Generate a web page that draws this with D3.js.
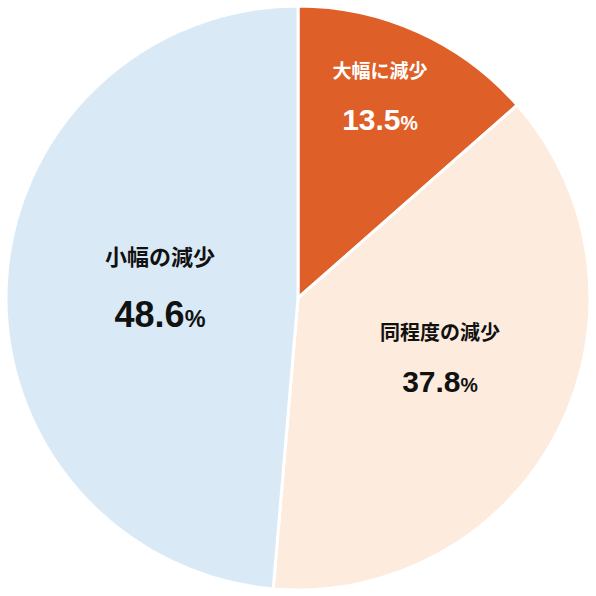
<!DOCTYPE html>
<html><head><meta charset="utf-8">
<script src="https://cdn.jsdelivr.net/npm/d3@7"></script>
<style>body{margin:0;background:#fff}</style>
</head><body>
<svg id="c" width="596" height="596"></svg>
<script>
const categories = ["大幅に減少", "同程度の減少", "小幅の減少"];
const values = [13.5, 37.8, 48.6];
const valueLabels = ["13.5", "37.8", "48.6"];
const colors = ["#DF5F28", "#FDEBDD", "#D9EAF6"];
const labelColors = ["#ffffff", "#111111", "#111111"];

const svg = d3.select("#c");
const cx = 298, cy = 298, r = 292;
const g = svg.append("g").attr("transform", `translate(${cx},${cy})`);
const pie = d3.pie().sort(null).value(d => d)(values);
const arc = d3.arc().innerRadius(0).outerRadius(r);
g.selectAll("path").data(pie).join("path")
  .attr("d", arc).attr("fill", (d, i) => colors[i])
  .attr("stroke", "#fff").attr("stroke-width", 3);

const labelPos = [[82, -220], [142, 42], [-138, -33]];
const nameSize = [19, 20, 22];
const valSize = [30, 30, 36];
const font = "'Noto Sans CJK JP', 'Liberation Sans', sans-serif";
pie.forEach((d, i) => {
  const [x, y] = labelPos[i];
  g.append("text").attr("x", x).attr("y", y).attr("text-anchor", "middle")
    .attr("font-family", font).attr("font-weight", "bold")
    .attr("font-size", nameSize[i]).attr("fill", labelColors[i]).text(categories[i]);
  const t = g.append("text").attr("x", x).attr("y", y + (i === 2 ? 62 : 52))
    .attr("text-anchor", "middle").attr("font-family", "'Liberation Sans', Arial, sans-serif")
    .attr("font-weight", "bold").attr("fill", labelColors[i]);
  t.append("tspan").attr("font-size", valSize[i]).text(valueLabels[i]);
  t.append("tspan").attr("font-size", valSize[i] * 0.65).text("%");
});
</script>
</body></html>
